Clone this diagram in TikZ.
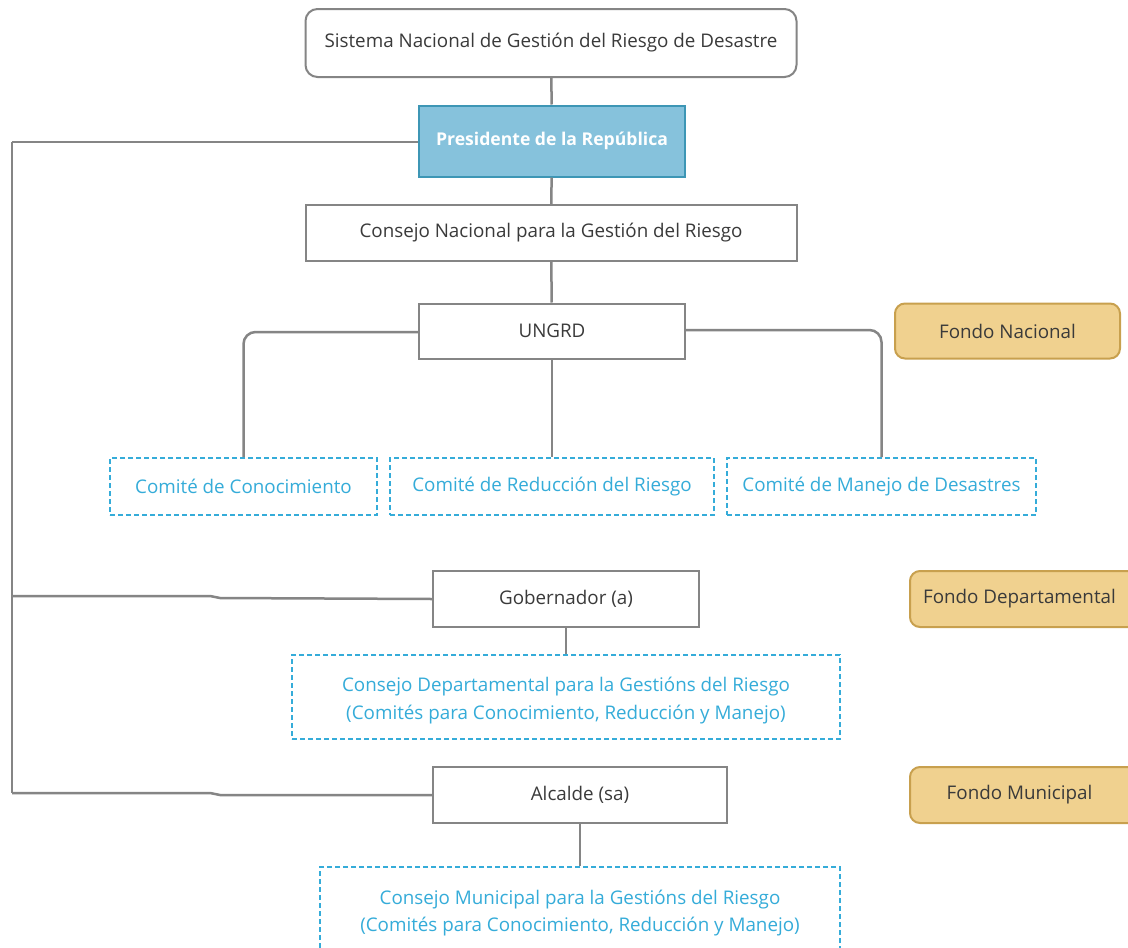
\documentclass[tikz,border=0pt]{standalone}
\usepackage{fontspec}
\setmainfont{Open Sans}
\definecolor{linegray}{HTML}{858585}
\definecolor{txtgray}{HTML}{3A3A3A}
\definecolor{presfill}{HTML}{86C2DC}
\definecolor{presdraw}{HTML}{3D96B5}
\definecolor{fondofill}{HTML}{F0D18F}
\definecolor{fondodraw}{HTML}{C8A04E}
\definecolor{comiteblue}{HTML}{35ACD9}
\tikzset{
  plainbox/.style={draw=linegray,line width=2pt,fill=white,text=txtgray,inner sep=0pt,align=center},
  roundbox/.style={plainbox,rounded corners=12pt},
  presbox/.style={draw=presdraw,fill=presfill,line width=2pt,text=white,font=\fontsize{17.6}{20}\selectfont\bfseries,inner sep=0pt},
  fondobox/.style={draw=fondodraw,fill=fondofill,line width=2pt,rounded corners=10pt,text=txtgray,inner sep=0pt},
  comitebox/.style={draw=comiteblue,dashed,dash pattern=on 5pt off 3pt,line width=2pt,text=comiteblue,inner sep=0pt,align=center,fill=white},
  link/.style={draw=linegray,line width=2.5pt}
}
\begin{document}
\begin{tikzpicture}[x=1pt,y=-1pt,font=\fontsize{18.8}{28}\selectfont]
	\useasboundingbox (0,0) rectangle (1128,948);
	\fill[white] (0,0) rectangle (1128,948);
	% national level
	\node [roundbox,minimum width=491pt,minimum height=68pt] (sis) at (551,43) {Sistema Nacional de Gestión del Riesgo de Desastre};
	\node [presbox,minimum width=266pt,minimum height=71pt] (pres) at (552,141) {Presidente de la República};
	\node [plainbox,minimum width=491pt,minimum height=56pt] (cons) at (551,233) {Consejo Nacional para la Gestión del Riesgo};
	\node [plainbox,minimum width=266pt,minimum height=55pt] (ungrd) at (552,331) {UNGRD};
	\node [fondobox,minimum width=225pt,minimum height=55pt] (fnac) at (1007.5,331) {Fondo Nacional};
	\node [comitebox,minimum width=267pt,minimum height=57pt] (cconoc) at (243.5,486.5) {Comité de Conocimiento};
	\node [comitebox,minimum width=324pt,minimum height=57pt] (creduc) at (552,486.5) {Comité de Reducción del Riesgo};
	\node [comitebox,minimum width=309pt,minimum height=57pt] (cmanejo) at (881.5,486.5) {Comité de Manejo de Desastres};
	% departamental level
	\node [plainbox,minimum width=266pt,minimum height=56pt] (gob) at (566,599) {Gobernador (a)};
	\node [fondobox,minimum width=235pt,minimum height=56pt,anchor=west] (fdep) at (909,599) {\hspace*{-16pt}Fondo Departamental};
	\node [comitebox,minimum width=548pt,minimum height=84pt] (cdep) at (566,697) {\raisebox{-7.5pt}[0pt][0pt]{\parbox{530pt}{\centering Consejo Departamental para la Gestións del Riesgo\\(Comités para Conocimiento, Reducción y Manejo)}}};
	% municipal level
	\node [plainbox,minimum width=294pt,minimum height=56pt] (alc) at (580,795) {Alcalde (sa)};
	\node [fondobox,minimum width=235pt,minimum height=56pt,anchor=west] (fmun) at (909,795) {\hspace*{-16pt}Fondo Municipal};
	\node [comitebox,minimum width=520pt,minimum height=100pt,anchor=north] (cmun) at (580,866) {\raisebox{0pt}[0pt][0pt]{\parbox{510pt}{\centering Consejo Municipal para la Gestións del Riesgo\\[-1pt](Comités para Conocimiento, Reducción y Manejo)}}};
	\coordinate (ltop) at (12,142);
	\coordinate (lbot) at (12,793);
	% connectors
	\draw [link] (sis) -- (pres);
	\draw [link] (pres) -- (cons);
	\draw [link] (cons) -- (ungrd);
	\draw [link] (ungrd) -- (creduc);
	\draw [link,rounded corners=12pt] (ungrd.west |- 0,332) -| (cconoc.north);
	\draw [link,rounded corners=12pt] (ungrd.east |- 0,330) -| (cmanejo.north);
	\draw [link] (gob) -- (cdep);
	\draw [link] (alc) -- (cmun);
	\draw [link] (ltop) -- (lbot);
	\draw [link] (ltop) -- (pres.west |- ltop);
	\draw [link] (12,596) -- (210,596) -- (220,598) -- (gob.west);
	\draw [link] (lbot) -- (210,793) -- (220,795) -- (alc.west |- 0,795);
\end{tikzpicture}
\end{document}
